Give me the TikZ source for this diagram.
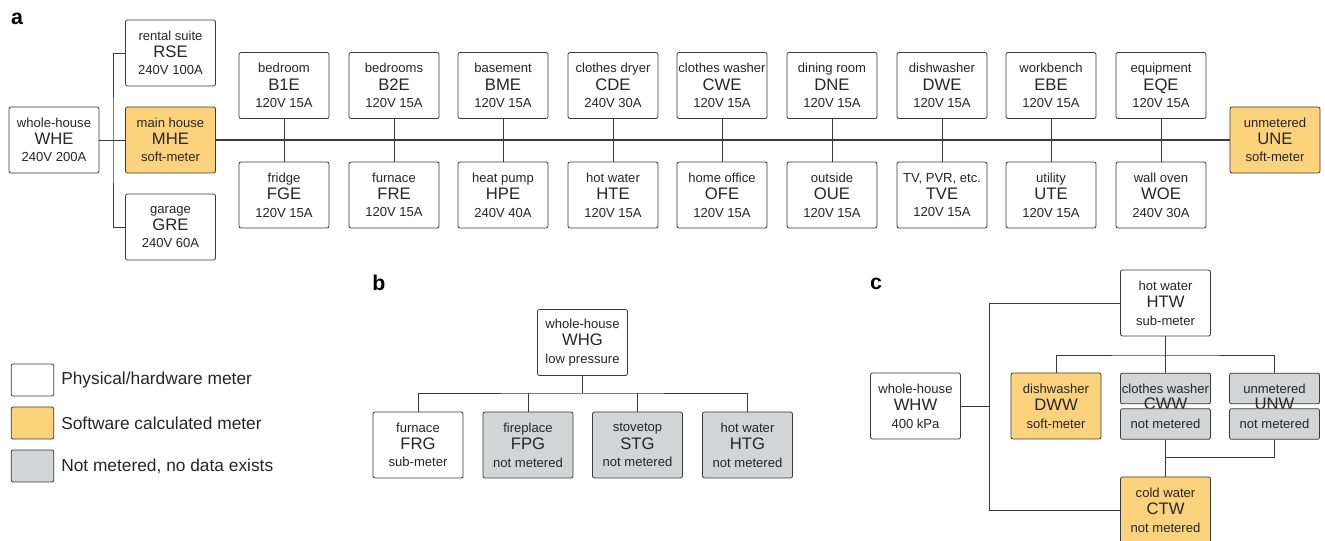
\documentclass[tikz,border=0pt]{standalone}
\usepackage{fontspec}
\setmainfont{Liberation Sans}
\usepackage{tikz}

\definecolor{linec}{HTML}{3A3A3A}
\definecolor{textc}{HTML}{262626}
\definecolor{softc}{HTML}{FDD27D}
\definecolor{nonec}{HTML}{D3D4D6}
\newcommand{\mcode}[1]{{\fontsize{12.5}{13}\selectfont #1}}

\begin{document}
\begin{tikzpicture}
      [ x = .75pt, y = -.75pt
      , meter/.style =
        { draw = linec, fill = white, rounded corners = 1.5pt, line width = .6pt
        , minimum width = 67.5pt, minimum height = 49.5pt, inner sep = 0pt
        , align = center, text = textc, font = \fontsize{9.8}{13}\selectfont }
      , soft/.style =
        { fill = softc }
      , nodata/.style =
        { fill = nonec }
      , half/.style =
        { minimum height = 23pt }
      , wire/.style =
        { draw = linec, line width = .6pt }
      , bus/.style =
        { line width = 1.5pt }
      , panel/.style =
        { inner sep = 0pt, text = black, font = \fontsize{16}{16}\selectfont\bfseries }
      , legtext/.style =
        { anchor = west, inner sep = 0pt, text = textc, font = \fontsize{13}{13}\selectfont }
      ]
      \useasboundingbox (0,0) rectangle (1325,541);
      % a: electricity
      \node [panel] (pa) at (17,19) {a};
      \node [meter] (WHE) at (54,140) {whole-house\\\mcode{WHE}\\240V 200A};
      \node [meter] (RSE) at (170.5,53) {rental suite\\\mcode{RSE}\\240V 100A};
      \node [meter,soft] (MHE) at (170.5,140) {main house\\\mcode{MHE}\\soft-meter};
      \node [meter] (GRE) at (170.5,227) {garage\\\mcode{GRE}\\240V 60A};
      \node [meter,soft] (UNE) at (1275,140) {unmetered\\\mcode{UNE}\\soft-meter};
      \node [meter] (B1E) at (284,85.5) {bedroom\\\mcode{B1E}\\120V 15A};
      \node [meter] (B2E) at (394,85.5) {bedrooms\\\mcode{B2E}\\120V 15A};
      \node [meter] (BME) at (503,85.5) {basement\\\mcode{BME}\\120V 15A};
      \node [meter] (CDE) at (613,85.5) {clothes dryer\\\mcode{CDE}\\240V 30A};
      \node [meter] (CWE) at (722,85.5) {clothes washer\\\mcode{CWE}\\120V 15A};
      \node [meter] (DNE) at (832,85.5) {dining room\\\mcode{DNE}\\120V 15A};
      \node [meter] (DWE) at (942,85.5) {dishwasher\\\mcode{DWE}\\120V 15A};
      \node [meter] (EBE) at (1051,85.5) {workbench\\\mcode{EBE}\\120V 15A};
      \node [meter] (EQE) at (1161,85.5) {equipment\\\mcode{EQE}\\120V 15A};
      \node [meter] (FGE) at (284,195) {fridge\\\mcode{FGE}\\120V 15A};
      \node [meter] (FRE) at (394,195) {furnace\\\mcode{FRE}\\120V 15A};
      \node [meter] (HPE) at (503,195) {heat pump\\\mcode{HPE}\\240V 40A};
      \node [meter] (HTE) at (613,195) {hot water\\\mcode{HTE}\\120V 15A};
      \node [meter] (OFE) at (722,195) {home office\\\mcode{OFE}\\120V 15A};
      \node [meter] (OUE) at (832,195) {outside\\\mcode{OUE}\\120V 15A};
      \node [meter] (TVE) at (942,195) {TV, PVR, etc.\\\mcode{TVE}\\120V 15A};
      \node [meter] (UTE) at (1051,195) {utility\\\mcode{UTE}\\120V 15A};
      \node [meter] (WOE) at (1161,195) {wall oven\\\mcode{WOE}\\240V 30A};
      \coordinate (asplit) at (113,140);
      \draw [wire] (WHE) to (MHE);
      \draw [wire] (RSE.west) -| (asplit) |- (GRE.west);
      \draw [wire] (B1E) to (FGE);
      \draw [wire] (B2E) to (FRE);
      \draw [wire] (BME) to (HPE);
      \draw [wire] (CDE) to (HTE);
      \draw [wire] (CWE) to (OFE);
      \draw [wire] (DNE) to (OUE);
      \draw [wire] (DWE) to (TVE);
      \draw [wire] (EBE) to (UTE);
      \draw [wire] (EQE) to (WOE);
      \draw [wire,bus] (MHE) to (UNE);
      % b: gas
      \node [panel] (pb) at (379,283) {b};
      \node [meter] (WHG) at (582.5,342.5) {whole-house\\\mcode{WHG}\\low pressure};
      \node [meter] (FRG) at (418,445) {furnace\\\mcode{FRG}\\sub-meter};
      \node [meter,nodata] (FPG) at (528,445) {fireplace\\\mcode{FPG}\\not metered};
      \node [meter,nodata] (STG) at (637.5,445) {stovetop\\\mcode{STG}\\not metered};
      \node [meter,nodata] (HTG) at (747.5,445) {hot water\\\mcode{HTG}\\not metered};
      \coordinate (bsplit) at (582.5,393);
      \draw [wire,line width = 1pt] (WHG) to (bsplit);
      \draw [wire] (FRG.north) |- (bsplit) -| (HTG.north);
      \draw [wire] (FPG.north) to (FPG.north |- bsplit);
      \draw [wire] (STG.north) to (STG.north |- bsplit);
      % c: water
      \node [panel] (pc) at (876,284) {c};
      \node [meter] (WHW) at (915.5,406) {whole-house\\\mcode{WHW}\\400 kPa};
      \node [meter] (HTW) at (1165.5,303) {hot water\\\mcode{HTW}\\sub-meter};
      \node [meter,soft] (DWW) at (1056,406) {dishwasher\\\mcode{DWW}\\soft-meter};
      \node [meter,nodata,half] (CWWa) at (1165.5,388.5) {clothes washer};
      \node [inner sep = 0pt, text = textc] (CWWc) at (1165.5,403.5) {\mcode{CWW}};
      \node [meter,nodata,half] (CWWb) at (1165.5,424) {not metered};
      \node [meter,nodata,half] (UNWa) at (1274.5,388.5) {unmetered};
      \node [inner sep = 0pt, text = textc] (UNWc) at (1274.5,403.5) {\mcode{UNW}};
      \node [meter,nodata,half] (UNWb) at (1274.5,424) {not metered};
      \node [meter,soft] (CTW) at (1165.5,510) {cold water\\\mcode{CTW}\\not metered};
      \coordinate (csplit) at (989,406);
      \coordinate (cbranch) at (1165.5,355);
      \coordinate (cjoin) at (1165.5,457);
      \draw [wire] (WHW) to (csplit);
      \draw [wire] (HTW.west) -| (csplit) |- (CTW.west);
      \draw [wire] (HTW) to (cbranch);
      \draw [wire] (DWW.north) |- (cbranch) -| (UNWa.north);
      \draw [wire] (cbranch) to (CWWa);
      \draw [wire] (CWWb) to (CTW);
      \draw [wire] (UNWb.south) |- (cjoin);
      % legend
      \node [meter,minimum width = 32pt,minimum height = 24pt] (lphys) at (32.5,380) {};
      \node [meter,soft,minimum width = 32pt,minimum height = 24pt] (lsoft) at (32.5,423) {};
      \node [meter,nodata,minimum width = 32pt,minimum height = 24pt] (lnone) at (32.5,466) {};
      \node [legtext] (tphys) at (61,380) {Physical/hardware meter};
      \node [legtext] (tsoft) at (61,423) {Software calculated meter};
      \node [legtext] (tnone) at (61,466) {Not metered, no data exists};
    \end{tikzpicture}
\end{document}
